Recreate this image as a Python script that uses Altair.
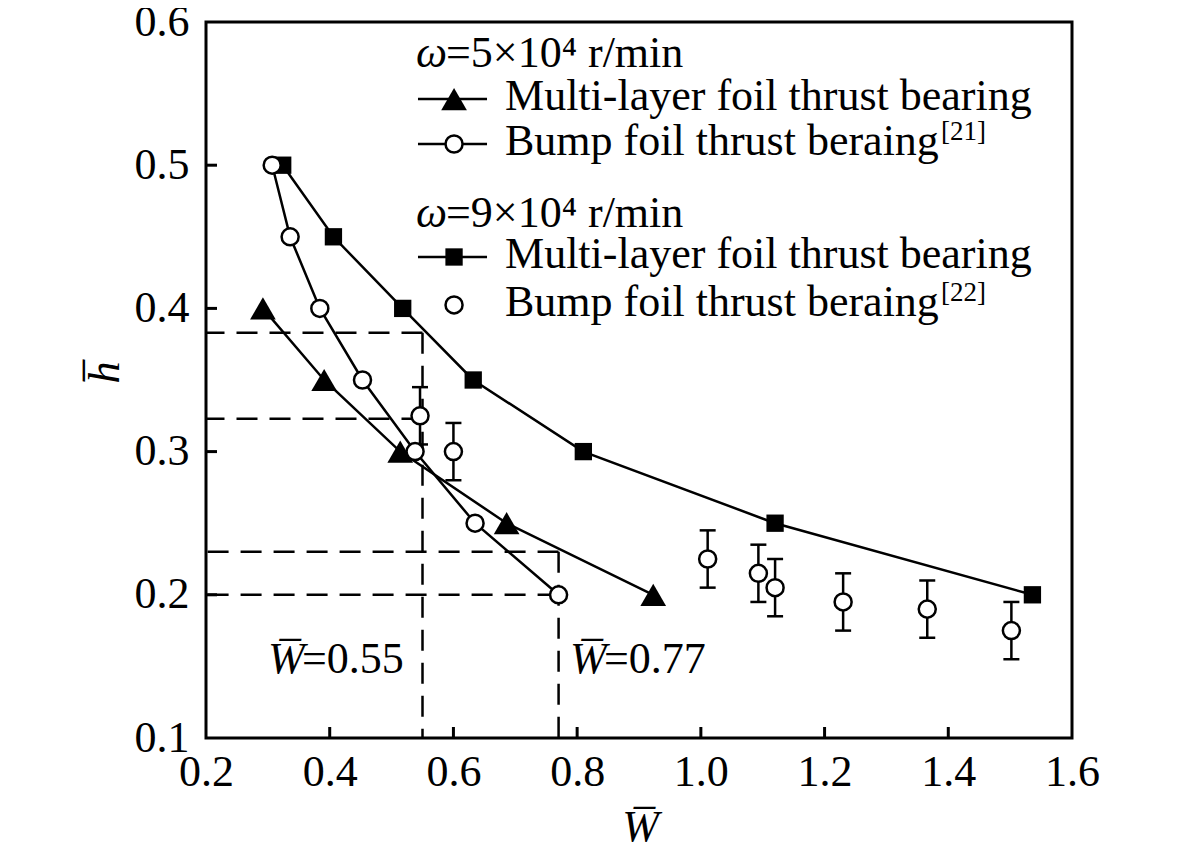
import altair as alt
import pandas as pd

FONT = "Liberation Serif"
FS = 44

# ---------------- data ----------------
tri_W = [0.292, 0.391, 0.514, 0.686, 0.923]          # omega=5e4, multi-layer
tri_h = [0.40, 0.35, 0.30, 0.25, 0.20]
b21_W = [0.307, 0.336, 0.384, 0.453, 0.538, 0.635, 0.770]  # omega=5e4, bump [21]
b21_h = [0.50, 0.45, 0.40, 0.35, 0.30, 0.25, 0.20]
sq_W = [0.324, 0.406, 0.518, 0.632, 0.810, 1.120, 1.536]   # omega=9e4, multi-layer
sq_h = [0.50, 0.45, 0.40, 0.35, 0.30, 0.25, 0.20]
b22_W = [0.546, 0.600, 1.011, 1.093, 1.120, 1.230, 1.366, 1.502]  # omega=9e4, bump [22]
b22_h = [0.325, 0.300, 0.225, 0.215, 0.205, 0.195, 0.190, 0.175]
b22_err = [0.02, 0.02, 0.02, 0.02, 0.02, 0.02, 0.02, 0.02]

# dashed guide lines
guide_h = [0.383, 0.323, 0.230, 0.200]
guide_W = [0.55, 0.55, 0.77, 0.77]
vguide_W = [0.55, 0.77]
vguide_top = [0.383, 0.230]

x_ticks = [0.4, 0.6, 0.8, 1.0, 1.2, 1.4]
y_ticks = [0.2, 0.3, 0.4, 0.5]
x_labels = [0.2, 0.4, 0.6, 0.8, 1.0, 1.2, 1.4, 1.6]
y_labels = [0.1, 0.2, 0.3, 0.4, 0.5, 0.6]

# legend (positions in data units)
leg_text = ["Multi-layer foil thrust bearing", "Bump foil thrust beraing",
            "Multi-layer foil thrust bearing", "Bump foil thrust beraing"]
leg_text_h = [0.5385, 0.5071, 0.4282, 0.3947]
leg_text_W = 0.6834
leg_sup = ["[21]", "[22]"]
leg_sup_h = [0.5176, 0.4052]
leg_head = ["=5×10⁴ r/min", "=9×10⁴ r/min"]
leg_head_h = [0.5686, 0.4568]
leg_head_W = 0.5395
leg_sym_W = 0.6010
leg_line_W = [0.5427, 0.6543]
leg_glyph_h = [0.5462, 0.5148, 0.4359, 0.4024]

ann_val = ["=0.55", "=0.77"]
ann_W = [0.3002, 0.7884]
ann_h = 0.1454

# ---------------- scales / axes ----------------
xs = alt.Scale(domain=[0.2, 1.6], nice=False, zero=False)
ys = alt.Scale(domain=[0.1, 0.6], nice=False, zero=False)

xaxis = alt.Axis(values=x_labels, format=".1f", domain=False, ticks=False, tickSize=0,
                 grid=False, labelPadding=12, labelFont=FONT, labelFontSize=FS,
                 labelColor="black", labelFlush=False, labelOverlap=False,
                 title="W\u0305", titleFont=FONT, titleFontSize=FS, titleFontStyle="italic",
                 titleFontWeight="normal", titleColor="black", titleX=434, titleY=102,
                 titleBaseline="alphabetic", titleAlign="center")
yaxis = alt.Axis(values=y_labels, format=".1f", domain=False, ticks=False, tickSize=0,
                 grid=False, labelPadding=17, labelFont=FONT, labelFontSize=FS,
                 labelColor="black", labelFlush=False, labelOverlap=False,
                 title="h\u0305", titleFont=FONT, titleFontSize=FS, titleFontStyle="italic",
                 titleFontWeight="normal", titleColor="black", titleX=-88, titleY=350,
                 titleAngle=270, titleBaseline="alphabetic", titleAlign="center")


def X(f):
    return alt.X(f, type="quantitative", scale=xs, axis=xaxis)


def Y(f):
    return alt.Y(f, type="quantitative", scale=ys, axis=yaxis)


df_tri = pd.DataFrame({"W": tri_W, "h": tri_h})
df_b21 = pd.DataFrame({"W": b21_W, "h": b21_h})
df_sq = pd.DataFrame({"W": sq_W, "h": sq_h})
df_b22 = pd.DataFrame({"W": b22_W, "h": b22_h,
                       "lo": [a - e for a, e in zip(b22_h, b22_err)],
                       "hi": [a + e for a, e in zip(b22_h, b22_err)]})

# guides: start at the corner and run to the axis
g_rows = [{"W": w, "W2": 0.2, "h": h, "h2": h} for w, h in zip(guide_W, guide_h)]
g_rows += [{"W": w, "W2": w, "h": t, "h2": 0.1} for w, t in zip(vguide_W, vguide_top)]
df_guides = pd.DataFrame(g_rows)

guides = alt.Chart(df_guides).mark_rule(color="black", strokeWidth=2.5,
                                        strokeDash=[21, 12]).encode(
    x=X("W"), x2="W2", y=Y("h"), y2="h2")

xt = alt.Chart(pd.DataFrame({"t": x_ticks})).mark_rule(color="black", strokeWidth=3).encode(
    x=X("t"), y=alt.value(716), y2=alt.value(705))
yt = alt.Chart(pd.DataFrame({"t": y_ticks})).mark_rule(color="black", strokeWidth=3).encode(
    y=Y("t"), x=alt.value(0), x2=alt.value(11))

line_tri = alt.Chart(df_tri).mark_line(color="black", strokeWidth=2.5).encode(x=X("W"), y=Y("h"))
line_b21 = alt.Chart(df_b21).mark_line(color="black", strokeWidth=2.5).encode(x=X("W"), y=Y("h"))
line_sq = alt.Chart(df_sq).mark_line(color="black", strokeWidth=2.5).encode(x=X("W"), y=Y("h"))

err = alt.Chart(df_b22).mark_rule(color="black", strokeWidth=2.5).encode(
    x=X("W"), y=Y("lo"), y2="hi")
cap_lo = alt.Chart(df_b22).mark_tick(color="black", orient="horizontal", size=16,
                                     thickness=2.5, opacity=1).encode(x=X("W"), y=Y("lo"))
cap_hi = alt.Chart(df_b22).mark_tick(color="black", orient="horizontal", size=16,
                                     thickness=2.5, opacity=1).encode(x=X("W"), y=Y("hi"))

TRI = dict(shape="triangle-up", filled=True, color="black", size=660, opacity=1)
SQ = dict(shape="square", filled=True, color="black", size=300, opacity=1)
CIR = dict(shape="circle", filled=True, fill="white", stroke="black", strokeWidth=2.5,
           size=290, opacity=1)

pt_tri = alt.Chart(df_tri).mark_point(**TRI).encode(x=X("W"), y=Y("h"))
pt_sq = alt.Chart(df_sq).mark_point(**SQ).encode(x=X("W"), y=Y("h"))
pt_b21 = alt.Chart(df_b21).mark_point(**CIR).encode(x=X("W"), y=Y("h"))
pt_b22 = alt.Chart(df_b22).mark_point(**CIR).encode(x=X("W"), y=Y("h"))

# legend
df_leg_lines = pd.DataFrame({"W": [leg_line_W[0]] * 3, "W2": [leg_line_W[1]] * 3,
                             "h": [leg_glyph_h[0], leg_glyph_h[1], leg_glyph_h[2]]})
leg_lines = alt.Chart(df_leg_lines).mark_rule(color="black", strokeWidth=2.5).encode(
    x=X("W"), x2="W2", y=Y("h"), y2="h")
leg_tri = alt.Chart(pd.DataFrame({"W": [leg_sym_W], "h": [leg_glyph_h[0]]})).mark_point(**TRI).encode(
    x=X("W"), y=Y("h"))
leg_sq = alt.Chart(pd.DataFrame({"W": [leg_sym_W], "h": [leg_glyph_h[2]]})).mark_point(**SQ).encode(
    x=X("W"), y=Y("h"))
leg_cir = alt.Chart(pd.DataFrame({"W": [leg_sym_W] * 2,
                                  "h": [leg_glyph_h[1], leg_glyph_h[3]]})).mark_point(**CIR).encode(
    x=X("W"), y=Y("h"))

TXT = dict(font=FONT, fontSize=FS, align="left", baseline="alphabetic", color="black")

leg_txt = alt.Chart(pd.DataFrame({"W": [leg_text_W] * 4, "h": leg_text_h, "t": leg_text})).mark_text(
    **TXT).encode(x=X("W"), y=Y("h"), text="t:N")
leg_sup_t = alt.Chart(pd.DataFrame({"W": [leg_text_W] * 2, "h": leg_sup_h, "t": leg_sup})).mark_text(
    font=FONT, fontSize=27, align="left", baseline="alphabetic", color="black", dx=436).encode(
    x=X("W"), y=Y("h"), text="t:N")
leg_omega = alt.Chart(pd.DataFrame({"W": [leg_head_W] * 2, "h": leg_head_h, "t": ["ω", "ω"]})).mark_text(
    fontStyle="italic", **TXT).encode(x=X("W"), y=Y("h"), text="t:N")
leg_head_t = alt.Chart(pd.DataFrame({"W": [leg_head_W] * 2, "h": leg_head_h, "t": leg_head})).mark_text(
    dx=30, **TXT).encode(x=X("W"), y=Y("h"), text="t:N")

ann_Wbar = alt.Chart(pd.DataFrame({"W": ann_W, "h": [ann_h] * 2, "t": ["W\u0305", "W\u0305"]})).mark_text(
    fontStyle="italic", **TXT).encode(x=X("W"), y=Y("h"), text="t:N")
ann_num = alt.Chart(pd.DataFrame({"W": ann_W, "h": [ann_h] * 2, "t": ann_val})).mark_text(
    dx=34, **TXT).encode(x=X("W"), y=Y("h"), text="t:N")

chart = alt.layer(
    guides, xt, yt, line_tri, line_b21, line_sq, err, cap_lo, cap_hi,
    leg_lines, pt_tri, pt_sq, pt_b21, pt_b22, leg_tri, leg_sq, leg_cir,
    leg_txt, leg_sup_t, leg_omega, leg_head_t, ann_Wbar, ann_num
).properties(
    width=866, height=716,
    autosize=alt.AutoSizeParams(type="none"),
    padding={"left": 198, "top": 14, "right": 90, "bottom": 114},
    background="white",
).configure_view(stroke="black", strokeWidth=3)

chart.save("out.html", embed_options={"renderer": "svg", "actions": False})
